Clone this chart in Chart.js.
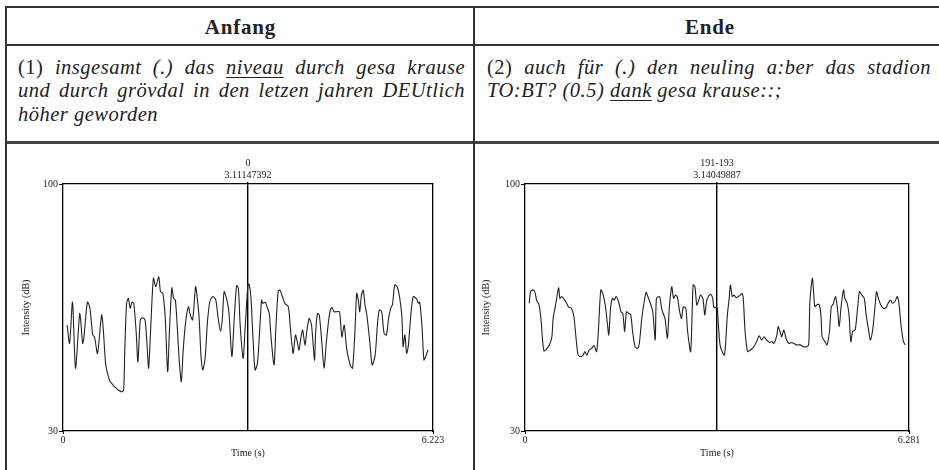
<!DOCTYPE html>
<html>
<head>
<meta charset="utf-8">
<script src="https://cdn.jsdelivr.net/npm/chart.js@4.4.1/dist/chart.umd.min.js"></script>
<style>
html, body { margin: 0; padding: 0; background: #fff; }
#page { position: relative; width: 939px; height: 470px; overflow: hidden; font-family: "Liberation Serif", serif; color: #222; }
.rule { position: absolute; background: #333; }
.head { position: absolute; top: 15px; font-weight: bold; font-size: 21px; line-height: 24px; letter-spacing: 0.8px; text-align: center; }
.cell { position: absolute; top: 55.5px; font-size: 20.5px; line-height: 23.5px; letter-spacing: 0.5px; }
.cell .j { text-align: justify; text-align-last: justify; }
.cell i { font-family: "Liberation Serif", serif; font-style: italic; }
.cell u { text-decoration-thickness: 1px; text-underline-offset: 3px; }
canvas { position: absolute; }
</style>
</head>
<body>
<div id="page">
  <div class="rule" style="left:5px;top:6px;width:934px;height:2px"></div>
  <div class="rule" style="left:5px;top:44px;width:934px;height:2px"></div>
  <div class="rule" style="left:5px;top:141px;width:934px;height:3px;background:#444"></div>
  <div class="rule" style="left:5px;top:6px;width:2px;height:464px"></div>
  <div class="rule" style="left:473px;top:6px;width:2px;height:464px"></div>

  <div class="head" style="left:7px;width:467px">Anfang</div>
  <div class="head" style="left:475px;width:470px">Ende</div>

  <div class="cell" style="left:18px;width:447px">
    <div class="j">(1) <i>insgesamt (.) das <u>niveau</u> durch gesa krause</i></div>
    <div class="j"><i>und durch grövdal in den letzen jahren DEUtlich</i></div>
    <div><i>höher geworden</i></div>
  </div>
  <div class="cell" style="left:487px;width:444px">
    <div class="j">(2) <i>auch für (.) den neuling a:ber das stadion</i></div>
    <div><i>TO:BT? (0.5) <u>dank</u> gesa krause::;</i></div>
  </div>

  <canvas id="chartAnfang" width="466" height="324" style="left:6px;top:146px"></canvas>
  <canvas id="chartEnde" width="463" height="324" style="left:476px;top:146px"></canvas>
</div>

<script>
// Anfang: intensity contour (time in s, intensity in dB)
const anfangTime = [
  0.07, 0.11, 0.16, 0.21, 0.28, 0.30, 0.33, 0.35, 0.41, 0.45,
  0.50, 0.53, 0.58, 0.65, 0.68, 0.72, 0.79, 0.82, 0.86, 0.90,
  0.93, 0.99, 1.02, 1.04, 1.07, 1.10, 1.13, 1.16, 1.19, 1.23,
  1.26, 1.30, 1.34, 1.38, 1.41, 1.44, 1.47, 1.52, 1.56, 1.61,
  1.64, 1.68, 1.72, 1.76, 1.79, 1.83, 1.86, 1.89, 1.92, 1.96,
  1.99, 2.02, 2.06, 2.11, 2.14, 2.18, 2.23, 2.25, 2.29, 2.32,
  2.35, 2.39, 2.43, 2.47, 2.52, 2.57, 2.61, 2.65, 2.68, 2.71,
  2.75, 2.79, 2.84, 2.88, 2.92, 2.95, 2.98, 3.03, 3.06, 3.11,
  3.13, 3.16, 3.19, 3.23, 3.27, 3.30, 3.34, 3.36, 3.40, 3.44,
  3.47, 3.50, 3.55, 3.58, 3.62, 3.65, 3.69, 3.73, 3.79, 3.82,
  3.87, 3.91, 3.94, 3.97, 4.00, 4.03, 4.07, 4.10, 4.14, 4.18,
  4.23, 4.25, 4.28, 4.31, 4.35, 4.39, 4.43, 4.48, 4.52, 4.56,
  4.60, 4.65, 4.69, 4.73, 4.77, 4.83, 4.87, 4.91, 4.94, 4.97,
  4.99, 5.02, 5.05, 5.08, 5.11, 5.16, 5.20, 5.25, 5.29, 5.32,
  5.36, 5.40, 5.44, 5.48, 5.52, 5.54, 5.58, 5.62, 5.66, 5.70,
  5.72, 5.75, 5.78, 5.81, 5.85, 5.89, 5.94, 5.98, 6.00, 6.04,
  6.07, 6.10, 6.14
];
const anfangDb = [
  60.0, 54.8, 66.5, 47.8, 63.3, 61.0, 54.8, 56.3, 66.5, 65.2,
  57.2, 56.7, 52.0, 62.9, 58.2, 48.7, 44.0, 43.5, 42.6, 42.1,
  41.6, 41.1, 41.6, 53.4, 66.2, 67.6, 64.8, 66.5, 66.2, 58.2,
  49.6, 61.5, 62.1, 61.5, 55.3, 47.8, 57.2, 73.3, 70.9, 73.7,
  69.5, 69.0, 61.9, 46.8, 58.2, 70.6, 67.6, 67.1, 60.0, 48.7,
  44.0, 52.5, 60.5, 65.2, 62.9, 61.5, 70.9, 69.0, 61.9, 51.5,
  47.3, 50.6, 61.0, 66.7, 68.1, 67.1, 61.9, 58.2, 61.9, 69.5,
  67.6, 63.8, 51.1, 61.9, 71.2, 70.4, 60.0, 50.6, 58.2, 71.4,
  71.6, 68.1, 58.2, 47.3, 49.2, 56.3, 67.1, 66.2, 66.5, 64.8,
  63.3, 56.3, 48.7, 59.1, 69.7, 69.9, 68.1, 66.2, 65.2, 60.0,
  52.0, 57.2, 55.3, 52.9, 56.3, 58.6, 54.4, 58.2, 61.9, 60.0,
  50.1, 58.2, 63.3, 62.9, 55.8, 47.8, 55.3, 62.9, 65.0, 63.8,
  63.8, 63.8, 56.7, 60.0, 53.4, 48.7, 47.8, 58.2, 69.0, 66.7,
  63.8, 68.5, 69.9, 65.7, 62.9, 55.3, 48.7, 51.5, 60.5, 64.3,
  63.8, 57.7, 57.2, 62.4, 65.2, 65.7, 71.4, 70.9, 68.1, 62.4,
  53.9, 57.2, 52.0, 54.4, 62.9, 68.1, 67.6, 66.2, 66.5, 59.1,
  50.1, 51.1, 53.0
];
const anfangEnd = 6.223;
const anfangCursor = 3.11147392;
const anfangCursorLabel = ["0", "3.11147392"];

// Ende: intensity contour
const endeTime = [
  0.07, 0.09, 0.13, 0.16, 0.19, 0.23, 0.26, 0.29, 0.31, 0.35,
  0.40, 0.44, 0.46, 0.50, 0.55, 0.57, 0.60, 0.63, 0.67, 0.71,
  0.76, 0.80, 0.83, 0.87, 0.92, 0.95, 0.98, 1.01, 1.05, 1.09,
  1.13, 1.17, 1.20, 1.24, 1.28, 1.32, 1.35, 1.37, 1.40, 1.43,
  1.46, 1.49, 1.53, 1.57, 1.60, 1.63, 1.66, 1.70, 1.73, 1.76,
  1.80, 1.84, 1.87, 1.91, 1.95, 1.98, 2.01, 2.05, 2.09, 2.13,
  2.15, 2.20, 2.23, 2.25, 2.29, 2.33, 2.36, 2.40, 2.43, 2.46,
  2.49, 2.53, 2.56, 2.59, 2.63, 2.66, 2.71, 2.75, 2.78, 2.81,
  2.85, 2.87, 2.91, 2.94, 2.97, 3.00, 3.04, 3.07, 3.09, 3.14,
  3.16, 3.19, 3.22, 3.26, 3.28, 3.31, 3.34, 3.36, 3.39, 3.42,
  3.45, 3.49, 3.52, 3.55, 3.57, 3.60, 3.64, 3.68, 3.72, 3.76,
  3.80, 3.83, 3.87, 3.91, 3.95, 4.00, 4.04, 4.07, 4.12, 4.14,
  4.17, 4.20, 4.23, 4.25, 4.28, 4.32, 4.36, 4.40, 4.44, 4.50,
  4.55, 4.60, 4.64, 4.66, 4.70, 4.72, 4.74, 4.77, 4.81, 4.84,
  4.86, 4.90, 4.94, 4.98, 5.01, 5.04, 5.08, 5.11, 5.14, 5.17,
  5.21, 5.23, 5.27, 5.30, 5.33, 5.36, 5.40, 5.44, 5.47, 5.51,
  5.55, 5.58, 5.62, 5.65, 5.69, 5.73, 5.75, 5.78, 5.82, 5.86,
  5.90, 5.94, 5.98, 6.01, 6.05, 6.09, 6.12, 6.15, 6.19, 6.22
];
const endeDb = [
  66.2, 69.5, 70.0, 69.5, 67.1, 65.7, 61.9, 55.3, 52.7, 53.2,
  54.4, 56.7, 61.9, 65.7, 70.6, 67.6, 68.1, 67.6, 66.5, 65.2,
  64.8, 62.4, 57.2, 51.5, 51.1, 51.5, 52.5, 51.5, 52.9, 53.4,
  54.2, 52.5, 58.2, 70.0, 68.5, 64.8, 60.0, 57.2, 64.8, 67.6,
  67.1, 68.1, 66.7, 63.8, 63.3, 58.2, 63.8, 63.3, 62.9, 58.2,
  53.9, 53.4, 54.8, 61.9, 66.7, 69.3, 68.1, 66.2, 63.8, 55.8,
  67.6, 68.1, 65.2, 63.8, 61.9, 56.3, 64.8, 70.9, 67.6, 68.5,
  68.1, 63.8, 61.9, 65.2, 64.8, 58.2, 52.5, 71.4, 70.9, 65.7,
  67.6, 68.5, 67.6, 62.9, 66.7, 68.1, 68.7, 67.6, 65.0, 65.0,
  61.0, 54.4, 52.7, 51.5, 54.4, 62.9, 67.6, 71.4, 68.1, 68.5,
  67.8, 68.1, 68.5, 69.0, 67.6, 58.2, 52.5, 52.9, 53.4, 54.4,
  55.8, 57.0, 55.8, 56.7, 55.8, 55.1, 55.3, 54.8, 57.2, 59.6,
  58.2, 56.7, 58.6, 57.7, 55.8, 54.8, 55.1, 54.8, 54.4, 54.4,
  53.9, 53.9, 54.4, 66.7, 73.3, 69.5, 65.2, 65.7, 65.9, 62.9,
  56.7, 55.5, 54.4, 58.2, 65.2, 65.9, 68.1, 64.8, 59.6, 65.2,
  70.0, 67.6, 66.2, 62.9, 55.3, 58.2, 58.6, 64.8, 69.5, 68.5,
  67.6, 62.9, 58.6, 55.8, 59.1, 66.2, 69.5, 67.6, 65.7, 64.8,
  64.8, 66.2, 67.1, 66.2, 66.7, 68.1, 65.7, 60.0, 55.3, 54.4
];
const endeEnd = 6.281;
const endeCursor = 3.14049887;
const endeCursorLabel = ["191-193", "3.14049887"];

const yMin = 30;
const yMax = 100;

Chart.defaults.font.family = '"Liberation Serif", serif';
Chart.defaults.font.size = 10;
Chart.defaults.color = "#222";

const tickFont = { family: '"Liberation Serif", serif', size: 10 };

function drawIntensity(canvasId, times, dbs, tEnd, cursor, cursorLabel, box) {
	const points = times.map((t, i) => ({ x: t, y: dbs[i] }));
	return new Chart(document.getElementById(canvasId), {
		type: "line",
		data: {
			datasets: [
				{
					data: points,
					borderColor: "#222",
					borderWidth: 1.1,
					pointRadius: 0,
					tension: 0.25,
					fill: false,
				},
			],
		},
		options: {
			responsive: false,
			animation: false,
			devicePixelRatio: 1,
			events: [],
			plugins: { legend: { display: false }, tooltip: { enabled: false } },
			layout: { padding: { left: 0, top: 0, right: box.right, bottom: 0 } },
			scales: {
				x: {
					type: "linear",
					position: "bottom",
					min: 0,
					max: tEnd,
					afterBuildTicks: (s) => { s.ticks = [{ value: 0 }, { value: tEnd }]; },
					afterFit: (s) => { s.height = 39; },
					ticks: { font: tickFont, color: "#222", padding: 0, maxRotation: 0, autoSkip: false, callback: (v) => String(v) },
					grid: { drawOnChartArea: false, tickLength: 3, color: "#000", lineWidth: 1 },
					border: { color: "#000", width: 1.3 },
					title: { display: true, text: "Time (s)", font: tickFont, color: "#222", padding: { top: 0, bottom: 10.5 } },
				},
				y: {
					type: "linear",
					position: "left",
					min: yMin,
					max: yMax,
					afterBuildTicks: (s) => { s.ticks = [{ value: yMin }, { value: yMax }]; },
					afterFit: (s) => { s.width = box.left; },
					ticks: { font: tickFont, color: "#222", padding: 1, autoSkip: false, callback: (v) => String(v) },
					grid: { drawOnChartArea: false, tickLength: 4, color: "#000", lineWidth: 1 },
					border: { color: "#000", width: 1.3 },
					title: { display: true, text: "Intensity (dB)", font: tickFont, color: "#222", padding: { top: box.titlePad, bottom: 0 } },
				},
				cursor: {
					type: "linear",
					position: "top",
					min: 0,
					max: tEnd,
					afterBuildTicks: (s) => { s.ticks = [{ value: cursor }]; },
					afterFit: (s) => { s.height = 38; },
					ticks: { font: tickFont, color: "#222", padding: 1, maxRotation: 0, autoSkip: false, callback: () => cursorLabel },
					grid: { drawOnChartArea: true, tickLength: 2, color: "#000", lineWidth: 1.4 },
					border: { color: "#000", width: 1.3 },
				},
				frameRight: {
					type: "linear",
					position: "right",
					min: yMin,
					max: yMax,
					afterFit: (s) => { s.width = 0; },
					ticks: { display: false },
					grid: { display: false },
					border: { color: "#000", width: 1.3 },
				},
			},
		},
	});
}

drawIntensity("chartAnfang", anfangTime, anfangDb, anfangEnd, anfangCursor, anfangCursorLabel, { left: 57, right: 39, titlePad: 14 });
drawIntensity("chartEnde", endeTime, endeDb, endeEnd, endeCursor, endeCursorLabel, { left: 49, right: 30, titlePad: 4.5 });
</script>
</body>
</html>
